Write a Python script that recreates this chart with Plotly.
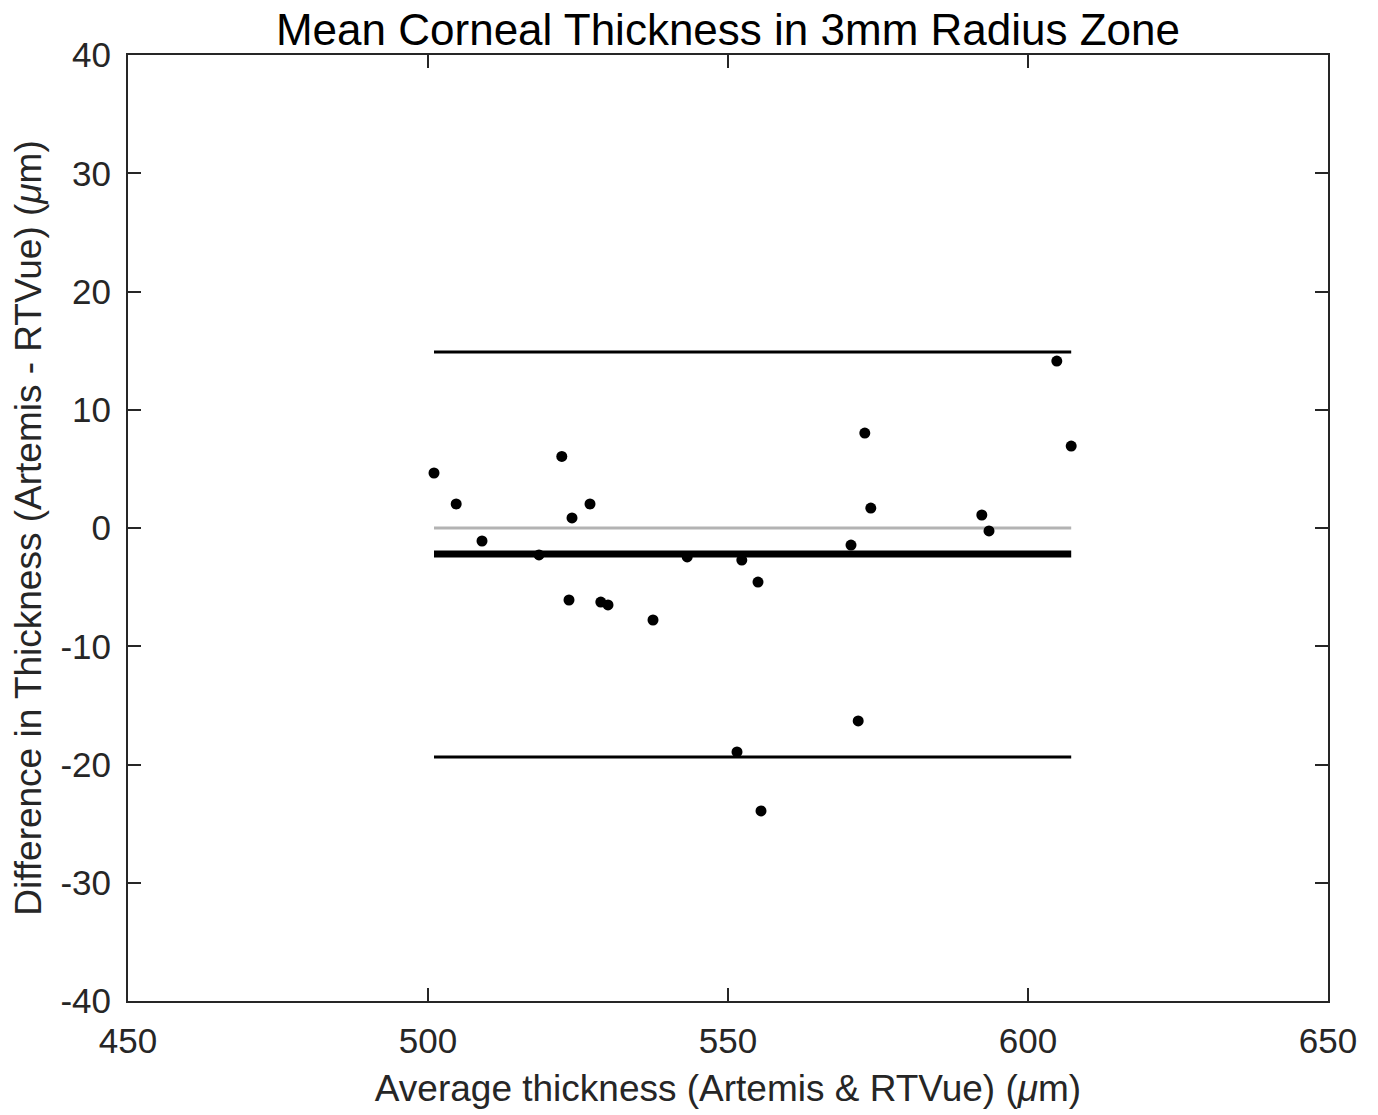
import plotly.graph_objects as go

# Bland-Altman data
avg_thickness = [501.0, 504.7, 509.0, 518.5, 522.3, 523.5, 524.0, 527.0, 528.8, 530.0,
                 537.5, 543.2, 551.5, 552.3, 555.5, 555.0, 570.5, 571.7, 572.8, 573.8,
                 592.3, 593.5, 604.8, 607.2]
diff_thickness = [4.65, 2.03, -1.10, -2.28, 6.05, -6.09, 0.85, 2.03, -6.26, -6.51,
                  -7.78, -2.45, -18.94, -2.71, -23.93, -4.57, -1.44, -16.32, 8.03, 1.69,
                  1.10, -0.25, 14.12, 6.93]

bias = -2.2
upper_loa = 14.88
lower_loa = -19.37
zero_ref = 0.0

x_ticks = [450, 500, 550, 600, 650]
y_ticks = [-40, -30, -20, -10, 0, 10, 20, 30, 40]

x_span = [min(avg_thickness), max(avg_thickness)]

FONT = "Liberation Sans, Arial, Helvetica, sans-serif"
AX = "#262626"

fig = go.Figure()
fig.add_trace(go.Scatter(x=x_span, y=[zero_ref, zero_ref], mode="lines",
                         line=dict(color="#b3b3b3", width=3), showlegend=False, hoverinfo="skip"))
fig.add_trace(go.Scatter(x=x_span, y=[bias, bias], mode="lines",
                         line=dict(color="black", width=7), showlegend=False))
fig.add_trace(go.Scatter(x=x_span, y=[upper_loa, upper_loa], mode="lines",
                         line=dict(color="black", width=3), showlegend=False))
fig.add_trace(go.Scatter(x=x_span, y=[lower_loa, lower_loa], mode="lines",
                         line=dict(color="black", width=3), showlegend=False))
fig.add_trace(go.Scatter(x=avg_thickness, y=diff_thickness, mode="markers",
                         marker=dict(color="black", size=11), showlegend=False))

axis_common = dict(showgrid=False, zeroline=False, showline=True, linecolor=AX, linewidth=2,
                   mirror="ticks", ticks="inside", ticklen=13, tickwidth=2, tickcolor=AX,
                   ticklabelstandoff=8,
                   tickfont=dict(family=FONT, size=35, color=AX))

fig.update_layout(
    width=1378, height=1115,
    margin=dict(l=128, r=50, t=55, b=114),
    plot_bgcolor="white", paper_bgcolor="white",
    font=dict(family=FONT, color=AX),
    title=dict(text="Mean Corneal Thickness in 3mm Radius Zone", x=0.5, xanchor="center",
               xref="paper", y=1 - 30 / 1115, yref="container", yanchor="middle",
               font=dict(family=FONT, size=44, color="black")),
    xaxis=dict(range=[450, 650], tickvals=x_ticks, ticktext=[str(v) for v in x_ticks],
               title=dict(text="Average thickness (Artemis & RTVue) (<i>μ</i>m)",
                          font=dict(family=FONT, size=37, color=AX), standoff=16),
               **axis_common),
    yaxis=dict(range=[-40, 40], tickvals=y_ticks, ticktext=[str(v) for v in y_ticks],
               title=dict(text="Difference in Thickness (Artemis - RTVue) (<i>μ</i>m)",
                          font=dict(family=FONT, size=37, color=AX), standoff=7),
               **axis_common),
)

fig.write_html("out.html")
